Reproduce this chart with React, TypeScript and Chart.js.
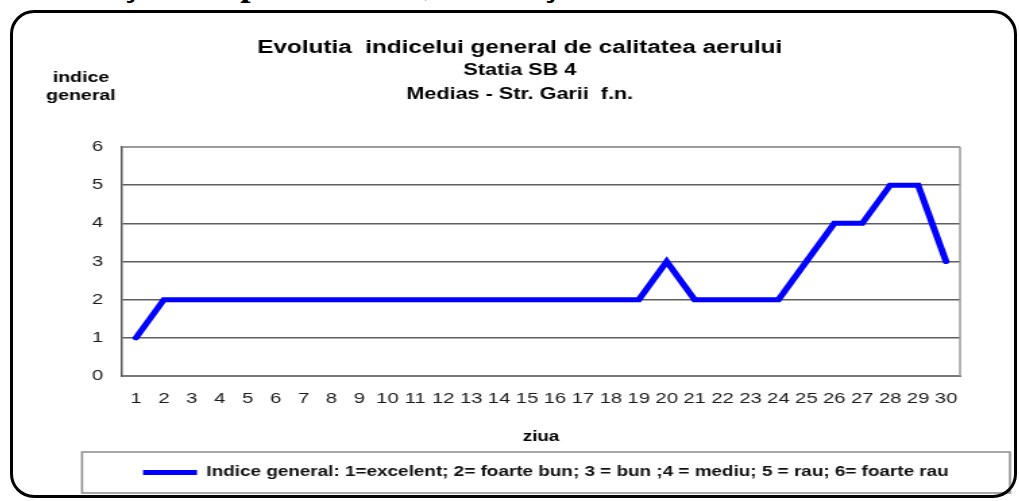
import React, { useEffect, useRef } from 'react';
import { Chart, registerables } from 'chart.js';

Chart.register(...registerables);

// ---- data ----
const days = ['1', '2', '3', '4', '5', '6', '7', '8', '9', '10', '11', '12', '13', '14', '15', '16', '17', '18', '19', '20', '21', '22', '23', '24', '25', '26', '27', '28', '29', '30'];
const indexValues = [1, 2, 2, 2, 2, 2, 2, 2, 2, 2, 2, 2, 2, 2, 2, 2, 2, 2, 2, 3, 2, 2, 2, 2, 3, 4, 4, 5, 5, 3];
const yMin = 0;
const yMax = 6;
const yStep = 1;

// ---- texts ----
const titleLine = 'Evolutia  indicelui general de calitatea aerului';
const subtitleLines = ['Statia SB 4', 'Medias - Str. Garii  f.n.'];
const yTitleLines = ['indice', 'general'];
const xTitle = 'ziua';
const seriesLabel = 'Indice general: 1=excelent; 2= foarte bun; 3 = bun ;4 = mediu; 5 = rau; 6= foarte rau';
const headerText = 'staţie de tip industrial, Mediaş – strada Garii';

const FONT = "'Liberation Sans', Arial, sans-serif";

export default function App() {
  const ref = useRef<HTMLCanvasElement>(null);

  useEffect(() => {
    const canvas = ref.current;
    if (!canvas) return;

    const decor = {
      id: 'decor',
      beforeDatasetsDraw(chart: any) {
        const { ctx, chartArea: a } = chart;
        ctx.save();
        ctx.strokeStyle = '#9a9a9a';
        ctx.lineWidth = 1.5;
        ctx.beginPath();
        ctx.moveTo(a.right, a.top);
        ctx.lineTo(a.right, a.bottom);
        ctx.stroke();
        ctx.restore();
      },
      afterDraw(chart: any) {
        const { ctx, chartArea: a, legend } = chart;
        ctx.save();
        ctx.strokeStyle = '#8a8a8a';
        ctx.lineWidth = 1.5;
        const lx = a.left - 29.6;
        const rx = a.right + 37;
        ctx.strokeRect(lx, legend.top + 2, rx - lx, 41);
        ctx.fillStyle = '#000';
        ctx.font = `bold 14.5px ${FONT}`;
        ctx.textAlign = 'center';
        ctx.textBaseline = 'middle';
        ctx.fillText(yTitleLines[0], a.left - 30.4, a.top - 69);
        ctx.fillText(yTitleLines[1], a.left - 30.4, a.top - 51);
        ctx.restore();
      },
    };

    const chart = new Chart(canvas, {
      type: 'line',
      data: {
        labels: days,
        datasets: [
          {
            label: seriesLabel,
            data: indexValues,
            borderColor: '#0000ff',
            backgroundColor: '#0000ff',
            borderWidth: 5,
            pointRadius: 0,
            pointHoverRadius: 0,
            pointStyle: 'line',
            tension: 0,
            borderCapStyle: 'round',
            borderJoinStyle: 'miter',
            fill: false,
          },
        ],
      },
      options: {
        responsive: false,
        animation: false,
        devicePixelRatio: 1,
        events: [],
        layout: { padding: { left: 48.6, right: 40, top: 0, bottom: 7.4 } },
        plugins: {
          title: {
            display: true,
            text: titleLine,
            color: '#000',
            font: { family: FONT, size: 18, weight: 'bold', lineHeight: 1.2 },
            padding: { top: 24.2, bottom: 0 },
          },
          subtitle: {
            display: true,
            text: subtitleLines,
            color: '#000',
            font: { family: FONT, size: 16, weight: 'bold', lineHeight: 1.5 },
            padding: { top: 0.2, bottom: 40 },
          },
          legend: {
            display: true,
            position: 'bottom',
            align: 'start',
            fullSize: false,
            labels: {
              usePointStyle: true,
              pointStyle: 'line',
              pointStyleWidth: 40,
              padding: 15.6,
              color: '#111',
              font: { family: FONT, size: 14, weight: 'bold' },
            },
          },
          tooltip: { enabled: false },
        },
        scales: {
          x: {
            type: 'category',
            offset: true,
            grid: { display: false, drawTicks: false },
            border: { display: true, color: '#7a7a7a', width: 2 },
            ticks: { color: '#1a1a1a', font: { family: FONT, size: 15 }, padding: 14, autoSkip: false, maxRotation: 0 },
            title: {
              display: true,
              text: xTitle,
              color: '#000',
              font: { family: FONT, size: 14, weight: 'bold', lineHeight: 1.2 },
              padding: { top: 6.6, bottom: 4.6 },
            },
          },
          y: {
            min: yMin,
            max: yMax,
            ticks: { stepSize: yStep, color: '#1a1a1a', font: { family: FONT, size: 15 }, padding: 14 },
            grid: {
              drawTicks: false,
              color: (c: any) => (c.tick && c.tick.value === yMax ? '#9a9a9a' : '#5e5e5e'),
              lineWidth: (c: any) => (c.tick && c.tick.value === yMax ? 2 : 1.5),
            },
            border: { display: true, color: '#555', width: 1.5 },
            afterFit: (scale: any) => {
              scale.width = 31.4;
            },
          },
        },
      },
      plugins: [decor],
    } as any);

    return () => chart.destroy();
  }, []);

  return (
    <div style={{ position: 'fixed', left: 0, top: 0, width: 1019, height: 501, overflow: 'hidden', background: '#fff' }}>
      <div
        style={{
          position: 'absolute',
          left: 78,
          top: -36,
          fontFamily: "'Liberation Serif', 'Times New Roman', serif",
          fontWeight: 'bold',
          fontSize: 37,
          lineHeight: '37px',
          whiteSpace: 'nowrap',
          color: '#000',
        }}
      >
        {headerText}
      </div>
      <div style={{ position: 'absolute', left: 14, top: 13, width: 1000, height: 484 }}>
        <canvas ref={ref} width={741} height={484} style={{ display: 'block', width: 1000, height: 484 }} />
      </div>
      <div
        style={{
          position: 'absolute',
          left: 10,
          top: 10,
          width: 1007,
          height: 488,
          boxSizing: 'border-box',
          border: '3px solid #000',
          borderRadius: 24,
          pointerEvents: 'none',
        }}
      />
    </div>
  );
}
